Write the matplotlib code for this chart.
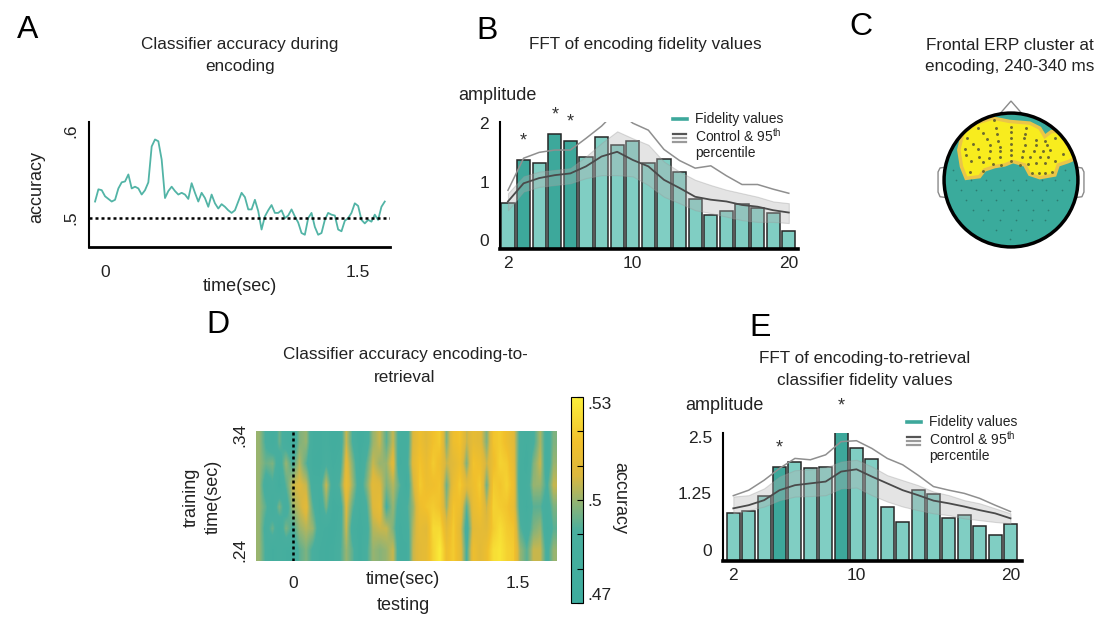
import numpy as np
import matplotlib
matplotlib.use("Agg")
import matplotlib.pyplot as plt
from matplotlib.colors import LinearSegmentedColormap
from matplotlib.patches import Circle, Polygon
from matplotlib.lines import Line2D

plt.rcParams['font.family'] = ['Liberation Sans', 'DejaVu Sans']
plt.rcParams['mathtext.fontset'] = 'custom'
plt.rcParams['mathtext.rm'] = 'Liberation Sans'
plt.rcParams['text.color'] = '#222222'

# ---------------------------------------------------------------- data
# A: classifier accuracy during encoding (sampled evenly over the epoch)
enc_t_start, enc_t_end = -0.059, 1.659
enc_acc = [0.519, 0.533, 0.532, 0.525, 0.522, 0.519, 0.521, 0.534, 0.541, 0.542,
           0.550, 0.534, 0.536, 0.534, 0.527, 0.532, 0.541, 0.582, 0.590, 0.588,
           0.567, 0.523, 0.531, 0.536, 0.531, 0.527, 0.529, 0.527, 0.522, 0.540,
           0.529, 0.519, 0.529, 0.523, 0.513, 0.527, 0.517, 0.511, 0.516, 0.513,
           0.509, 0.506, 0.509, 0.519, 0.529, 0.524, 0.510, 0.510, 0.521, 0.508,
           0.487, 0.502, 0.509, 0.515, 0.506, 0.506, 0.509, 0.500, 0.503, 0.510,
           0.502, 0.495, 0.483, 0.481, 0.500, 0.506, 0.490, 0.481, 0.483, 0.498,
           0.506, 0.504, 0.503, 0.487, 0.485, 0.497, 0.500, 0.506, 0.517, 0.514,
           0.498, 0.494, 0.498, 0.496, 0.504, 0.498, 0.513, 0.519]
chance = 0.5

# B: FFT of encoding fidelity values
freqs = list(range(2, 21))
b_amp = [0.63, 1.37, 1.31, 1.81, 1.69, 1.42, 1.77, 1.62, 1.70, 1.31,
         1.38, 1.16, 0.70, 0.43, 0.50, 0.61, 0.55, 0.46, 0.15]
b_ctrl_mean = [0.66, 0.97, 1.06, 1.11, 1.14, 1.26, 1.43, 1.51, 1.37, 1.26,
               1.03, 0.89, 0.74, 0.69, 0.66, 0.60, 0.57, 0.51, 0.47]
b_ctrl_hi = [0.80, 1.09, 1.17, 1.20, 1.23, 1.43, 1.66, 1.86, 1.74, 1.63,
             1.34, 1.17, 1.03, 0.94, 0.86, 0.80, 0.74, 0.66, 0.63]
b_ctrl_lo = [0.51, 0.83, 0.91, 0.94, 0.97, 1.06, 1.11, 1.11, 1.09, 0.94,
             0.74, 0.63, 0.51, 0.46, 0.40, 0.34, 0.31, 0.31, 0.29]
b_ctrl_95 = [0.85, 1.40, 1.50, 1.54, 1.54, 1.74, 1.95, 2.22, 2.00, 1.88,
             1.55, 1.36, 1.23, 1.27, 1.10, 0.95, 0.95, 0.87, 0.80]
b_sig = [3, 5, 6]

# E: FFT of encoding-to-retrieval classifier fidelity values
e_amp = [0.81, 0.86, 1.19, 1.82, 1.95, 1.80, 1.82, 2.74, 2.26, 2.00,
         0.95, 0.61, 1.32, 1.23, 0.71, 0.77, 0.53, 0.33, 0.57]
e_ctrl_mean = [0.92, 0.99, 1.10, 1.32, 1.43, 1.47, 1.51, 1.73, 1.78, 1.62,
               1.47, 1.32, 1.21, 1.09, 1.03, 0.96, 0.88, 0.81, 0.70]
e_ctrl_hi = [1.18, 1.21, 1.36, 1.62, 1.76, 1.78, 1.82, 1.95, 1.99, 1.84,
             1.65, 1.54, 1.43, 1.29, 1.21, 1.10, 1.03, 0.92, 0.81]
e_ctrl_lo = [0.81, 0.88, 0.96, 1.10, 1.18, 1.19, 1.21, 1.36, 1.38, 1.21,
             1.07, 0.96, 0.88, 0.81, 0.77, 0.70, 0.66, 0.62, 0.59]
e_ctrl_95 = [1.20, 1.32, 1.54, 1.80, 2.02, 1.99, 2.10, 2.39, 2.41, 2.24,
             2.02, 1.88, 1.65, 1.40, 1.32, 1.25, 1.14, 0.99, 0.85]
e_sig = [5, 9]

# D: encoding-to-retrieval accuracy, rows = training time (top .34 -> bottom .24),
# columns = testing time from -0.25 to 1.76 s
test_t_range = (-0.247, 1.760)
train_t_range = (0.2304, 0.3435)
gen_acc_cols = [
    [.500, .500, .500, .500, .500, .500], [.490, .495, .486, .493, .488, .490],
    [.484, .497, .490, .484, .495, .483], [.495, .486, .482, .497, .484, .487],
    [.486, .500, .493, .486, .497, .484], [.483, .490, .505, .500, .490, .484],
    [.497, .503, .508, .505, .500, .493], [.500, .493, .505, .510, .503, .497],
    [.484, .482, .486, .493, .500, .490], [.483, .481, .486, .483, .486, .484],
    [.486, .490, .505, .497, .483, .482], [.481, .483, .486, .482, .481, .483],
    [.483, .486, .493, .484, .486, .490], [.505, .510, .513, .508, .505, .500],
    [.490, .497, .500, .493, .486, .493], [.481, .483, .486, .484, .482, .481],
    [.486, .493, .497, .490, .486, .490], [.500, .505, .510, .508, .503, .500],
    [.505, .500, .508, .512, .505, .498], [.493, .500, .497, .490, .505, .500],
    [.505, .510, .503, .500, .497, .505], [.486, .483, .493, .486, .483, .484],
    [.484, .486, .482, .490, .486, .483], [.508, .510, .505, .500, .503, .505],
    [.515, .518, .520, .515, .512, .510], [.510, .513, .515, .518, .510, .512],
    [.517, .520, .516, .520, .524, .522], [.520, .515, .518, .517, .524, .529],
    [.497, .505, .495, .500, .510, .515], [.515, .510, .513, .518, .520, .520],
    [.518, .515, .520, .515, .510, .512], [.505, .497, .510, .493, .486, .490],
    [.512, .518, .515, .513, .510, .515], [.510, .515, .520, .517, .512, .510],
    [.497, .505, .495, .505, .510, .515], [.518, .515, .520, .522, .520, .525],
    [.520, .522, .518, .520, .525, .527], [.515, .520, .522, .518, .520, .522],
    [.510, .512, .515, .513, .518, .520], [.488, .486, .484, .488, .493, .500],
    [.484, .482, .486, .483, .486, .493], [.490, .497, .500, .493, .497, .505],
    [.502, .505, .500, .493, .500, .505], [.486, .484, .490, .486, .483, .488],
    [.497, .500, .505, .497, .493, .500]]

# C: electrode positions (unit head radius), cluster members and the rest
cluster_x = [-0.25, -0.50, -0.22, 0.00, 0.22, -0.42, -0.21, 0.00, 0.21, -0.65,
             -0.36, -0.19, 0.00, 0.20, 0.38, 0.51, 0.66, -0.57, -0.32, -0.17,
             0.00, 0.21, 0.38, 0.54, -0.68, -0.50, -0.31, -0.16, 0.00, 0.18,
             0.34, 0.48, 0.59, -0.67, -0.48, -0.33, -0.17, 0.00, 0.16, 0.28,
             0.43, 0.56, 0.77, -0.60, -0.42, -0.27, -0.15, 0.00, 0.13, 0.26,
             0.38, 0.51, 0.66, -0.62, -0.42, 0.32, 0.42, 0.51, 0.62]
cluster_y = [0.89, 0.78, 0.78, 0.79, 0.78, 0.70, 0.69, 0.72, 0.69, 0.63,
             0.62, 0.58, 0.63, 0.63, 0.60, 0.58, 0.63, 0.54, 0.53, 0.50,
             0.54, 0.53, 0.53, 0.53, 0.47, 0.47, 0.44, 0.43, 0.45, 0.44,
             0.43, 0.44, 0.45, 0.37, 0.35, 0.33, 0.35, 0.37, 0.35, 0.35,
             0.34, 0.35, 0.39, 0.28, 0.27, 0.24, 0.23, 0.29, 0.23, 0.24,
             0.25, 0.25, 0.28, 0.12, 0.13, 0.10, 0.10, 0.10, 0.12]
other_x = [-0.87, 0.81,
           -0.82, -0.60, -0.37, -0.17, 0.03, 0.23, 0.46, 0.66, 0.86,
           -0.75, -0.52, -0.30, -0.10, 0.11, 0.31, 0.53, 0.76,
           -0.67, -0.45, -0.22, 0.00, 0.23, 0.46, 0.68,
           -0.57, -0.35, -0.12, 0.11, 0.33, 0.56,
           -0.42, -0.17, 0.08, 0.31, 0.51,
           -0.22, 0.00, 0.23, -0.02]
other_y = [0.15, 0.15,
           0.00, 0.00, 0.00, 0.00, 0.00, 0.00, 0.00, 0.00, 0.00,
           -0.15, -0.15, -0.15, -0.15, -0.15, -0.15, -0.15, -0.15,
           -0.30, -0.30, -0.30, -0.30, -0.30, -0.30, -0.30,
           -0.45, -0.45, -0.45, -0.45, -0.45, -0.45,
           -0.60, -0.60, -0.60, -0.60, -0.60,
           -0.75, -0.75, -0.75, -0.875]
cluster_outline = [(-0.72, 0.70), (-0.52, 0.85), (-0.27, 0.925), (-0.02, 0.875),
                   (0.28, 0.85), (0.43, 0.775), (0.505, 0.65), (0.605, 0.725),
                   (0.705, 0.725), (0.805, 0.60), (0.905, 0.425), (0.98, 0.33),
                   (0.855, 0.275), (0.705, 0.225), (0.655, 0.075), (0.43, 0.035),
                   (0.28, 0.085), (0.205, 0.225), (0.03, 0.275), (-0.095, 0.225),
                   (-0.245, 0.20), (-0.395, 0.15), (-0.47, 0.05), (-0.67, 0.025),
                   (-0.74, 0.20), (-0.78, 0.45)]

# ---------------------------------------------------------------- styling
W, H = 1103, 619
TEAL = '#3da89b'
TEAL_LIGHT = '#80cec3'
TRACE = '#52b4a6'
fig = plt.figure(figsize=(W / 100, H / 100), dpi=100)


def ax_at(l, t, r, b):
    return fig.add_axes([l / W, 1 - b / H, (r - l) / W, (b - t) / H])


def ftext(x, y, s, **kw):
    kw.setdefault('ha', 'center')
    kw.setdefault('va', 'center')
    fig.text(x / W, 1 - y / H, s, **kw)


def fline(xs, ys, **kw):
    fig.add_artist(Line2D([x / W for x in xs], [1 - y / H for y in ys], **kw))


TFS, LFS, KFS = 12.3, 13, 12.5

# panel letters and titles
for letter, x, y in [('A', 28, 30), ('B', 487, 31), ('C', 861, 27), ('D', 218, 325), ('E', 760, 328)]:
    ftext(x, y, letter, fontsize=23, color='black')
ftext(240, 45, 'Classifier accuracy during', fontsize=TFS)
ftext(240, 67, 'encoding', fontsize=TFS)
ftext(645, 45, 'FFT of encoding fidelity values', fontsize=TFS)
ftext(1010, 45, 'Frontal ERP cluster at', fontsize=TFS)
ftext(1010, 66, 'encoding, 240-340 ms', fontsize=TFS)
ftext(405, 355, 'Classifier accuracy encoding-to-', fontsize=TFS)
ftext(405, 378, 'retrieval', fontsize=TFS)
ftext(865, 358, 'FFT of encoding-to-retrieval', fontsize=TFS)
ftext(865, 381, 'classifier fidelity values', fontsize=TFS)


def clean_axes(ax, lw_left=1.5, lw_bottom=2.0):
    for s in ['top', 'right']:
        ax.spines[s].set_visible(False)
    ax.spines['left'].set_linewidth(lw_left)
    ax.spines['bottom'].set_linewidth(lw_bottom)
    ax.tick_params(length=0, labelsize=KFS, labelcolor='#222222')


# ---------------------------------------------------------------- A
axA = ax_at(89, 122, 390, 247)
t = np.linspace(enc_t_start, enc_t_end, len(enc_acc))
axA.plot(t, enc_acc, color=TRACE, lw=1.3)
axA.axhline(chance, color='black', ls=(0, (1.2, 1.2)), lw=1.8)
axA.set_xlim(-0.095, 1.69)
axA.set_ylim(0.467, 0.61)
clean_axes(axA)
axA.set_xticks([0, 1.5], ['0', '1.5'])
axA.set_yticks([0.5, 0.6], ['.5', '.6'])
axA.tick_params(axis='x', pad=13)
axA.tick_params(axis='y', pad=8)
for lab in axA.get_yticklabels():
    lab.set_rotation(90)
    lab.set_va('center')
ftext(240, 286, 'time(sec)', fontsize=LFS)
ftext(37, 187, 'accuracy', fontsize=LFS, rotation=90)


# ---------------------------------------------------------------- B / E
def fft_panel(ax, amp, mean, lo, hi, p95, sig, ymin, ymax, yticks, ylabels):
    colors = [TEAL if f in sig else TEAL_LIGHT for f in freqs]
    ax.bar(freqs, np.array(amp) - ymin, bottom=ymin, width=0.84, color=colors,
           edgecolor='#262626', linewidth=1.1, zorder=1)
    ax.fill_between(freqs, lo, hi, color='#b4b4b4', alpha=0.35, lw=0.8,
                    edgecolor='#9a9a9a', zorder=2)
    ax.plot(freqs, mean, color='#4a4a4a', lw=1.3, zorder=3)
    ax.plot(freqs, p95, color='#8f8f8f', lw=1.1, zorder=3)
    for f in sig:
        ax.annotate('*', (f, amp[freqs.index(f)]), xytext=(0, 14), textcoords='offset points',
                    ha='center', va='center', fontsize=13, color='#333333', annotation_clip=False)
    ax.set_ylim(ymin, ymax)
    clean_axes(ax, 1.5, 2.6)
    ax.set_xticks([2, 10, 20], ['2', '10', '20'])
    ax.set_yticks(yticks, ylabels)
    ax.tick_params(axis='x', pad=5)
    ax.tick_params(axis='y', pad=8)


axB = ax_at(500, 122, 798, 249)
axB.set_xlim(1.49, 20.59)
fft_panel(axB, b_amp, b_ctrl_mean, b_ctrl_lo, b_ctrl_hi, b_ctrl_95, b_sig,
          -0.154, 2.02, [0, 1, 2], ['0', '1', '2'])
ftext(458, 95, 'amplitude', fontsize=LFS, ha='left')

axE = ax_at(723, 433, 1022, 561)
axE.set_xlim(1.33, 20.75)
fft_panel(axE, e_amp, e_ctrl_mean, e_ctrl_lo, e_ctrl_hi, e_ctrl_95, e_sig,
          -0.24, 2.58, [0, 1.25, 2.5], ['0', '1.25', '2.5'])
ftext(685, 405, 'amplitude', fontsize=LFS, ha='left')


def legend_block(x0, y0):
    fline([x0, x0 + 14], [y0, y0], color=TEAL, lw=2.6)
    ftext(x0 + 22, y0, 'Fidelity values', fontsize=10, ha='left')
    fline([x0, x0 + 13], [y0 + 15, y0 + 15], color='#555555', lw=1.6)
    fline([x0, x0 + 13], [y0 + 19, y0 + 19], color='#9a9a9a', lw=1.6)
    fline([x0, x0 + 13], [y0 + 23, y0 + 23], color='#9a9a9a', lw=1.6)
    ftext(x0 + 22, y0 + 17, r'Control & 95$^{\mathrm{th}}$', fontsize=10, ha='left')
    ftext(x0 + 22, y0 + 34, 'percentile', fontsize=10, ha='left')


legend_block(673, 119)
legend_block(907, 422)

# ---------------------------------------------------------------- C
axC = ax_at(926, 95, 1096, 265)
axC.set_xlim(-1.27, 1.27)
axC.set_ylim(-1.27, 1.27)
axC.axis('off')
axC.add_patch(Polygon([(-0.17, 0.985), (0, 1.18), (0.17, 0.985)], closed=False,
                      fc='white', ec='#8a8a8a', lw=1.0, zorder=1))
axC.plot([-0.985, -1.06, -1.09, -1.09, -1.06, -0.985], [0.19, 0.18, 0.12, -0.18, -0.25, -0.26],
         color='#8a8a8a', lw=1.0, zorder=1)
axC.plot([0.985, 1.06, 1.09, 1.09, 1.06, 0.985], [0.19, 0.18, 0.12, -0.18, -0.25, -0.26],
         color='#8a8a8a', lw=1.0, zorder=1)
head = Circle((0, 0), 1, fc='#3aab9c', ec='none', zorder=2)
axC.add_patch(head)
blob = Polygon(cluster_outline, closed=True, fc='#f8ec1e', ec='#ebc548', lw=2.5, zorder=3)
axC.add_patch(blob)
blob.set_clip_path(head)
axC.scatter(other_x, other_y, s=1.5, color='#2c7d72', zorder=4, lw=0)
axC.scatter(cluster_x, cluster_y, s=4.5, color='#6e6b2e', zorder=4, lw=0)
axC.add_patch(Circle((0, 0), 1, fc='none', ec='black', lw=2.5, zorder=5))

# ---------------------------------------------------------------- D
cmap = LinearSegmentedColormap.from_list('enc_ret', [
    (0.0, '#3dac9e'), (0.35, '#49af9e'), (0.5, '#98b470'), (0.62, '#dcb83e'),
    (0.78, '#f1c02c'), (1.0, '#fbef3a')])
axD = ax_at(256, 431, 557, 561)
grid = np.array(gen_acc_cols).T
im = axD.imshow(grid, cmap=cmap, vmin=0.47, vmax=0.53, aspect='auto', interpolation='bilinear',
                extent=[test_t_range[0], test_t_range[1], train_t_range[0], train_t_range[1]])
axD.axvline(0, color='black', ls=(0, (1.2, 1.2)), lw=1.8)
for s in axD.spines.values():
    s.set_visible(False)
axD.tick_params(length=0, labelsize=KFS, labelcolor='#222222')
axD.set_xticks([0, 1.5], ['0', '1.5'])
axD.set_yticks([0.24, 0.34], ['.24', '.34'])
axD.tick_params(axis='x', pad=11)
axD.tick_params(axis='y', pad=6)
for lab in axD.get_yticklabels():
    lab.set_rotation(90)
    lab.set_va('center')
ftext(403, 580, 'time(sec)', fontsize=LFS)
ftext(403, 606, 'testing', fontsize=LFS)
ftext(191, 497, 'training', fontsize=LFS, rotation=90)
ftext(213, 497, 'time(sec)', fontsize=LFS, rotation=90)

cax = ax_at(571, 397, 583, 603)
cb = fig.colorbar(im, cax=cax)
cb.outline.set_linewidth(0.8)
cb.set_ticks([0.47, 0.48, 0.49, 0.50, 0.51, 0.52, 0.53])
cb.set_ticklabels(['.47', '', '', '.5', '', '', '.53'])
cax.tick_params(direction='in', length=4, width=0.8, labelsize=KFS, labelcolor='#222222', pad=3)
ticklabs = cax.get_yticklabels()
ticklabs[0].set_va('bottom')
ticklabs[-1].set_va('top')
ftext(620, 498, 'accuracy', fontsize=LFS, rotation=270)

fig.savefig('out.png', dpi=100)
